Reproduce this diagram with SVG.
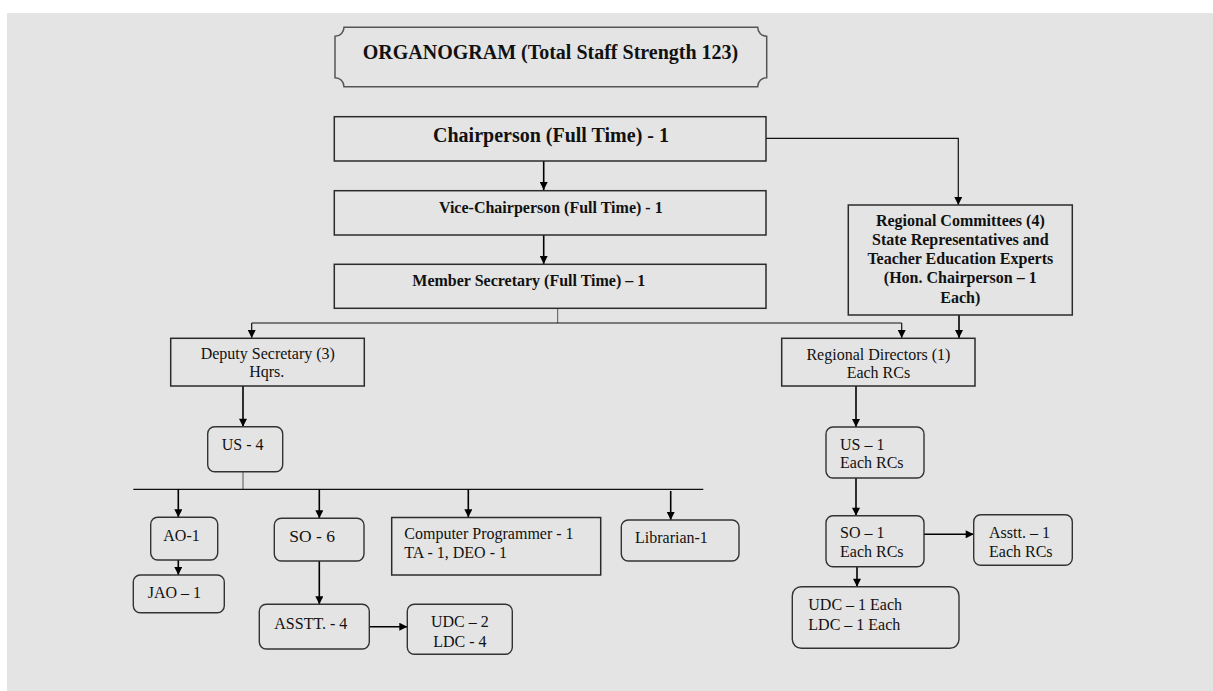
<svg xmlns="http://www.w3.org/2000/svg" width="1213" height="691" viewBox="0 0 1213 691">
<style>
.box{fill:#e4e4e4;stroke:#2b2b2b;stroke-width:1.5}
.rbox{fill:#e4e4e4;stroke:#333;stroke-width:1.4}
.ln{fill:none;stroke:#000;stroke-width:1.6}
.thin{fill:none;stroke:#111;stroke-width:1.2}
.stub{fill:none;stroke:#555;stroke-width:1}
.b20{font-family:"Liberation Serif",serif;font-weight:bold;font-size:20px;fill:#111}
.b16{font-family:"Liberation Serif",serif;font-weight:bold;font-size:16px;fill:#111}
.r16{font-family:"Liberation Serif",serif;font-size:16px;fill:#111}
.r17{font-family:"Liberation Serif",serif;font-size:17.5px;fill:#111}
.c{text-anchor:middle}
</style>
<defs>
<marker id="ah" viewBox="0 0 10 10" refX="10" refY="5" markerWidth="9" markerHeight="8" markerUnits="userSpaceOnUse" orient="auto">
<path d="M0,0 L10,5 L0,10 z" fill="#000"/>
</marker>
</defs>
<rect x="0" y="0" width="1213" height="691" fill="#ffffff"/>
<rect x="7" y="13" width="1206" height="678" fill="#e4e4e4"/>

<g id="connectors">
<line class="ln" x1="543.7" y1="161" x2="543.7" y2="190" marker-end="url(#ah)"/>
<line class="ln" x1="543.7" y1="235" x2="543.7" y2="264" marker-end="url(#ah)"/>
<polyline class="thin" points="766,138.3 958.3,138.3 958.3,205" marker-end="url(#ah)"/>
<line class="stub" x1="557.7" y1="308.5" x2="557.7" y2="323"/>
<line class="thin" x1="251.7" y1="323" x2="901.7" y2="323"/>
<line class="thin" x1="251.7" y1="323" x2="251.7" y2="338" marker-end="url(#ah)"/>
<line class="thin" x1="901.7" y1="323" x2="901.7" y2="338" marker-end="url(#ah)"/>
<line class="ln" x1="959" y1="315" x2="959" y2="338" marker-end="url(#ah)"/>
<line class="ln" x1="243" y1="386" x2="243" y2="426.7" marker-end="url(#ah)"/>
<line class="stub" x1="243" y1="471.7" x2="243" y2="489"/>
<line class="thin" x1="133.3" y1="489.3" x2="703.3" y2="489.3"/>
<line class="ln" x1="178.3" y1="489.3" x2="178.3" y2="517.3" marker-end="url(#ah)"/>
<line class="ln" x1="319.3" y1="489.3" x2="319.3" y2="518.3" marker-end="url(#ah)"/>
<line class="ln" x1="468.3" y1="489.3" x2="468.3" y2="517.3" marker-end="url(#ah)"/>
<line class="ln" x1="670.7" y1="491" x2="670.7" y2="520" marker-end="url(#ah)"/>
<line class="ln" x1="178.3" y1="560" x2="178.3" y2="575" marker-end="url(#ah)"/>
<line class="ln" x1="319.3" y1="561" x2="319.3" y2="604.3" marker-end="url(#ah)"/>
<line class="ln" x1="369.3" y1="626.7" x2="407.3" y2="626.7" marker-end="url(#ah)"/>
<line class="ln" x1="856" y1="386" x2="856" y2="427" marker-end="url(#ah)"/>
<line class="ln" x1="856" y1="478" x2="856" y2="515.7" marker-end="url(#ah)"/>
<line class="ln" x1="924" y1="534.3" x2="973.7" y2="534.3" marker-end="url(#ah)"/>
<line class="ln" x1="857" y1="566.7" x2="857" y2="586.7" marker-end="url(#ah)"/>
</g>

<g id="title">
<path d="M344,27.3 H757.7 A9,9 0 0 0 766.7,36.3 V77.7 A9,9 0 0 0 757.7,86.7 H344 A9,9 0 0 0 335,77.7 V36.3 A9,9 0 0 0 344,27.3 Z" fill="#e4e4e4" stroke="#555" stroke-width="1.5"/>
<text class="b20 c" x="550.5" y="59">ORGANOGRAM (Total Staff Strength 123)</text>
</g>

<g id="chairperson">
<rect class="box" x="334.3" y="116.7" width="431.7" height="44.3"/>
<text class="b20 c" x="551" y="142">Chairperson (Full Time) - 1</text>
</g>

<g id="vice-chairperson">
<rect class="box" x="334.3" y="190.7" width="431.7" height="44.3"/>
<text class="b16 c" x="550.8" y="213">Vice-Chairperson (Full Time) - 1</text>
</g>

<g id="member-secretary">
<rect class="box" x="334.3" y="264.3" width="431.7" height="44"/>
<text class="b16" x="412.3" y="286">Member Secretary (Full Time) – 1</text>
</g>

<g id="regional-committees">
<rect class="box" x="848.3" y="205" width="224" height="110"/>
<text class="b16 c" x="960.3" y="226">Regional Committees (4)</text>
<text class="b16 c" x="960.3" y="245">State Representatives and</text>
<text class="b16 c" x="960.3" y="264">Teacher Education Experts</text>
<text class="b16 c" x="960.3" y="283">(Hon. Chairperson – 1</text>
<text class="b16 c" x="960.3" y="302.5">Each)</text>
</g>

<g id="deputy-secretary">
<rect class="box" x="170.7" y="338.3" width="193.6" height="47.7"/>
<text class="r16 c" x="267.8" y="359.3">Deputy Secretary (3)</text>
<text class="r16 c" x="266.7" y="377.3">Hqrs.</text>
</g>

<g id="regional-directors">
<rect class="box" x="781.7" y="338.3" width="193.3" height="47.7"/>
<text class="r16 c" x="878.4" y="360">Regional Directors (1)</text>
<text class="r16 c" x="878.4" y="378.3">Each RCs</text>
</g>

<g id="us-4">
<rect class="rbox" x="207.7" y="426.7" width="75" height="45" rx="7"/>
<text class="r16" x="221.7" y="450">US - 4</text>
</g>

<g id="ao-1">
<rect class="rbox" x="150.7" y="517.3" width="67" height="42.7" rx="7"/>
<text class="r16" x="163.3" y="540.7">AO-1</text>
</g>

<g id="jao-1">
<rect class="rbox" x="133.3" y="575" width="91" height="37.7" rx="7"/>
<text class="r16" x="147.7" y="598.3">JAO – 1</text>
</g>

<g id="so-6">
<rect class="rbox" x="274.3" y="518.3" width="89.7" height="42.7" rx="7"/>
<text class="r17" x="289.3" y="542.3">SO - 6</text>
</g>

<g id="asstt-4">
<rect class="rbox" x="259.3" y="604.3" width="110" height="44.7" rx="7"/>
<text class="r16" x="274.3" y="629">ASSTT. - 4</text>
</g>

<g id="udc-ldc">
<rect class="rbox" x="407.3" y="604.3" width="105" height="50" rx="7"/>
<text class="r16 c" x="459.8" y="627.3">UDC – 2</text>
<text class="r16 c" x="459.8" y="646.7">LDC - 4</text>
</g>

<g id="computer-programmer">
<rect class="box" x="391.7" y="517.5" width="209" height="57.5"/>
<text class="r16" x="404.3" y="539">Computer Programmer - 1</text>
<text class="r16" x="404.3" y="557.7">TA - 1, DEO - 1</text>
</g>

<g id="librarian">
<rect class="rbox" x="621.3" y="520" width="117.7" height="41" rx="7"/>
<text class="r16" x="635" y="543.3">Librarian-1</text>
</g>

<g id="us-1">
<rect class="rbox" x="826" y="427" width="98" height="51" rx="7"/>
<text class="r16" x="840" y="450">US – 1</text>
<text class="r16" x="840" y="468.3">Each RCs</text>
</g>

<g id="so-1">
<rect class="rbox" x="826" y="515.7" width="98" height="51" rx="7"/>
<text class="r16" x="840" y="538.3">SO – 1</text>
<text class="r16" x="840" y="557.3">Each RCs</text>
</g>

<g id="asstt-1">
<rect class="rbox" x="973.7" y="514.7" width="98.6" height="50.6" rx="7"/>
<text class="r16" x="989" y="537.7">Asstt. – 1</text>
<text class="r16" x="989" y="556.7">Each RCs</text>
</g>

<g id="udc-ldc-each">
<rect class="rbox" x="792.3" y="586.7" width="166.7" height="61.6" rx="9"/>
<text class="r16" x="808.3" y="610">UDC – 1 Each</text>
<text class="r16" x="808.3" y="630">LDC – 1 Each</text>
</g>
</svg>
